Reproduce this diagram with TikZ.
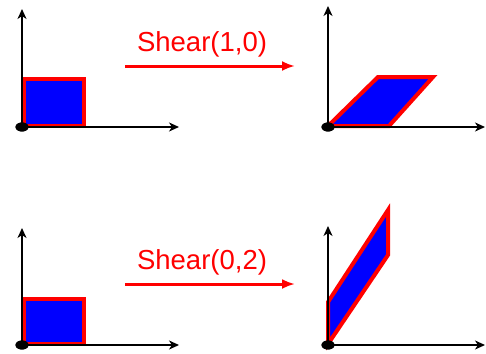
\documentclass[tikz,border=0pt]{standalone}
\usepackage{fontspec}
\setsansfont{Liberation Sans}
\usetikzlibrary{positioning}
\usetikzlibrary{arrows.meta}
\usetikzlibrary{shapes.geometric}

\begin{document}
\begin{tikzpicture}[
    x=1pt, y=-1pt,
    axis/.style={
        draw,
        line width=2pt,
        -{Stealth[length=10pt,width=9pt,inset=3pt]}
    },
    box/.style={
        draw=red,
        fill=blue,
        line width=4pt
    },
    origin/.style={
        ellipse,
        fill=black,
        inner sep=0pt,
        minimum width=13pt,
        minimum height=9pt
    },
    shear/.style={draw=red, line width=3pt, -{Latex[length=13pt,width=10pt]}},
    optext/.style={
        text=red,
        font=\sffamily\fontsize{27.5}{30}\selectfont
    }
]
\useasboundingbox (0,0) rectangle (486,353);

% top row: Shear(1,0)
\draw[box] (23.5,126) rectangle (84,79);
\draw[box] (328,126) -- (389,126) -- (433,77) -- (378,77) -- cycle;
\node[origin] (o1) at (22,127) {};
\node[origin] (o2) at (328,127) {};
\coordinate (y1) at (22,9);
\coordinate (x1) at (179,127);
\coordinate (y2) at (328,6);
\coordinate (x2) at (485,127);
\draw[axis] (o1.center) -- (y1);
\draw[axis] (o1.center) -- (x1);
\draw[axis] (o2.center) -- (y2);
\draw[axis] (o2.center) -- (x2);
\node[origin] at (o1) {};
\node[origin] at (o2) {};

\coordinate (s1) at (125,66);
\coordinate (e1) at (295,66);
\draw[shear] (s1) -- (e1);
\node[optext] (t1) at (202,44) {Shear(1,0)};

% bottom row: Shear(0,2)
\draw[box] (23.5,344) rectangle (84,298.5);
\draw[box] (328,344) -- (388,255) -- (388,210) -- (328,302) -- cycle;
\node[origin] (o3) at (22,345) {};
\node[origin] (o4) at (328,345) {};
\coordinate (y3) at (22,228);
\coordinate (x3) at (179,345);
\coordinate (y4) at (328,226);
\coordinate (x4) at (485,345);
\draw[axis] (o3.center) -- (y3);
\draw[axis] (o3.center) -- (x3);
\draw[axis] (o4.center) -- (y4);
\draw[axis] (o4.center) -- (x4);
\node[origin] at (o3) {};
\node[origin] at (o4) {};

\coordinate (s2) at (125,284);
\coordinate (e2) at (295,284);
\draw[shear] (s2) -- (e2);
\node[optext] (t2) at (202,262) {Shear(0,2)};

\end{tikzpicture}
\end{document}
